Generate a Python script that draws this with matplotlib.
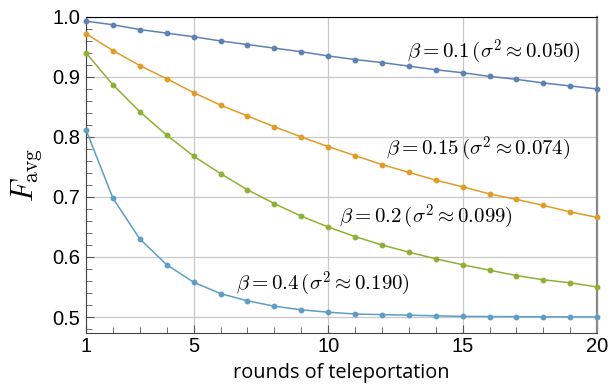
import numpy as np
import matplotlib
matplotlib.use("Agg")
import matplotlib.pyplot as plt
from matplotlib.ticker import MultipleLocator, FixedLocator

rounds = list(range(1, 21))

f_beta01 = [0.993, 0.987, 0.979, 0.973, 0.967, 0.960, 0.954, 0.948, 0.942, 0.935,
            0.929, 0.924, 0.918, 0.912, 0.907, 0.901, 0.896, 0.890, 0.885, 0.880]
f_beta015 = [0.972, 0.944, 0.919, 0.897, 0.874, 0.853, 0.835, 0.817, 0.800, 0.784,
             0.769, 0.754, 0.741, 0.728, 0.717, 0.705, 0.696, 0.686, 0.675, 0.666]
f_beta02 = [0.940, 0.887, 0.842, 0.803, 0.768, 0.739, 0.712, 0.689, 0.668, 0.650,
            0.634, 0.620, 0.608, 0.597, 0.587, 0.578, 0.569, 0.562, 0.557, 0.550]
f_beta04 = [0.812, 0.698, 0.630, 0.587, 0.558, 0.539, 0.527, 0.518, 0.512, 0.508,
            0.505, 0.504, 0.503, 0.502, 0.501, 0.5008, 0.5005, 0.5003, 0.5002, 0.5001]

labels = [r"$\beta = 0.1\,(\sigma^2 \approx 0.050)$",
          r"$\beta = 0.15\,(\sigma^2 \approx 0.074)$",
          r"$\beta = 0.2\,(\sigma^2 \approx 0.099)$",
          r"$\beta = 0.4\,(\sigma^2 \approx 0.190)$"]
colors = ["#5E81B5", "#E19C24", "#8FB032", "#5D9EC7"]

plt.rcParams["mathtext.fontset"] = "cm"

fig = plt.figure(figsize=(6.1, 3.85), dpi=100)
ax = fig.add_axes([0.141, 0.135, 0.838, 0.821])

for ys, c in zip([f_beta01, f_beta015, f_beta02, f_beta04], colors):
    ax.plot(rounds, ys, color=c, lw=1.1, marker="o", ms=3.2, clip_on=False, zorder=3)

ax.set_xlim(1, 20)
ax.set_ylim(0.4733, 1.0)
ax.xaxis.set_major_locator(FixedLocator([1, 5, 10, 15, 20]))
ax.xaxis.set_minor_locator(MultipleLocator(1))
ax.yaxis.set_major_locator(MultipleLocator(0.1))
ax.yaxis.set_minor_locator(MultipleLocator(0.02))
ax.yaxis.set_major_formatter(matplotlib.ticker.FormatStrFormatter("%.1f"))
ax.grid(True, which="major", color="#c8c8c8", lw=0.9)

ax.tick_params(which="both", direction="in", color="#555555", labelsize=14.5,
               labelfontfamily="Liberation Sans", pad=5)
ax.tick_params(which="major", length=6)
ax.tick_params(which="minor", length=4)
ax.tick_params(axis="x", top=False, pad=3)
ax.tick_params(axis="y", right=False, pad=4)

ax.spines["left"].set_color("#444444")
ax.spines["bottom"].set_color("#444444")
ax.spines["top"].set_color("black")
ax.spines["right"].set_color("#888888")
ax.spines["right"].set_linewidth(1.6)

ax.set_ylabel(r"$F_{\rm avg}$", fontsize=22, labelpad=6)
ax.set_xlabel("rounds of teleportation", fontsize=14.3, family="Open Sans", labelpad=5)

ax.text(19.4, 0.932, labels[0], fontsize=15, ha="right", va="baseline")
ax.text(19.0, 0.770, labels[1], fontsize=15, ha="right", va="baseline")
ax.text(16.87, 0.657, labels[2], fontsize=15, ha="right", va="baseline")
ax.text(6.58, 0.545, labels[3], fontsize=15, ha="left", va="baseline")

fig.savefig("out.png", dpi=100)
